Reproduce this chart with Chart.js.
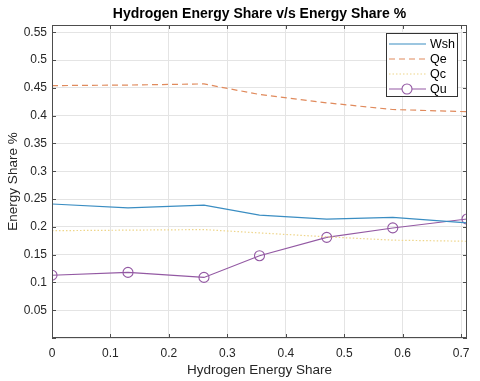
<!DOCTYPE html>
<html>
<head>
<meta charset="utf-8">
<script src="https://cdn.jsdelivr.net/npm/chart.js@4"></script>
<style>
  html, body { margin: 0; padding: 0; background: #fff; }
</style>
</head>
<body>
<canvas id="chart" width="480" height="381"></canvas>
<script>
// data
var hydrogenShare = [0, 0.13, 0.26, 0.355, 0.47, 0.583, 0.71];
var wsh = [0.241, 0.234, 0.239, 0.221, 0.214, 0.217, 0.207];
var qe  = [0.454, 0.455, 0.457, 0.438, 0.423, 0.411, 0.407];
var qc  = [0.193, 0.194, 0.195, 0.189, 0.182, 0.176, 0.174];
var qu  = [0.113, 0.118, 0.109, 0.148, 0.181, 0.198, 0.214];
var seriesNames = ['Wsh', 'Qe', 'Qc', 'Qu'];
var chartTitle = 'Hydrogen Energy Share v/s Energy Share %';

var FONT = "'Liberation Sans', Arial, Helvetica, sans-serif";

function toPoints(ys) {
    return ys.map(function (y, i) { return { x: hydrogenShare[i], y: y }; });
}

// box around the axes, inner tick marks, title over the axes and the legend (MATLAB style)
var boxPlugin = {
    id: 'box',
    afterDraw: function (chart) {
        var ctx = chart.ctx;
        var a = chart.chartArea;
        var xs = chart.scales.x, ys = chart.scales.y;
        ctx.save();
        ctx.strokeStyle = '#4d4d4d';
        ctx.lineWidth = 1;
        ctx.strokeRect(a.left + 0.5, a.top + 0.5, a.right - a.left - 1, a.bottom - a.top - 1);
        ctx.beginPath();
        xs.ticks.forEach(function (t) {
            var px = Math.round(xs.getPixelForValue(t.value)) + 0.5;
            ctx.moveTo(px, a.bottom); ctx.lineTo(px, a.bottom - 4);
            ctx.moveTo(px, a.top); ctx.lineTo(px, a.top + 4);
        });
        ys.ticks.forEach(function (t) {
            var py = Math.round(ys.getPixelForValue(t.value)) + 0.5;
            ctx.moveTo(a.left, py); ctx.lineTo(a.left + 4, py);
            ctx.moveTo(a.right, py); ctx.lineTo(a.right - 4, py);
        });
        ctx.stroke();

        // title centred over the axes
        ctx.fillStyle = '#000';
        ctx.font = 'bold 14px ' + FONT;
        ctx.textAlign = 'center';
        ctx.textBaseline = 'middle';
        ctx.fillText(chartTitle, (a.left + a.right) / 2, 14);

        // legend
        var lx = 386, ly = 33, lw = 71, lh = 63;
        ctx.textAlign = 'left';
        ctx.fillStyle = '#fff';
        ctx.fillRect(lx, ly, lw, lh);
        ctx.strokeStyle = '#333';
        ctx.strokeRect(lx + 0.5, ly + 0.5, lw, lh);
        ctx.font = '12.5px ' + FONT;
        chart.data.datasets.forEach(function (ds, i) {
            var y = ly + 11 + i * 15;
            ctx.strokeStyle = ds.borderColor;
            ctx.lineWidth = ds.borderWidth;
            ctx.setLineDash(ds.borderDash || []);
            ctx.beginPath();
            ctx.moveTo(lx + 3, y);
            ctx.lineTo(lx + 40, y);
            ctx.stroke();
            ctx.setLineDash([]);
            if (ds.pointRadius > 0) {
                ctx.fillStyle = '#fff';
                ctx.beginPath();
                ctx.arc(lx + 21, y, ds.pointRadius, 0, Math.PI * 2);
                ctx.fill();
                ctx.stroke();
            }
            ctx.fillStyle = '#000';
            ctx.fillText(ds.label, lx + 44, y + 1);
        });
        ctx.restore();
    }
};

var ctx = document.getElementById('chart');
new Chart(ctx, {
    type: 'line',
    data: {
        datasets: [{
            label: seriesNames[0],
            data: toPoints(wsh),
            borderColor: '#3a8dc2',
            borderWidth: 1.2,
            pointRadius: 0
        }, {
            label: seriesNames[1],
            data: toPoints(qe),
            borderColor: '#e08a5c',
            borderWidth: 1.2,
            borderDash: [6, 4],
            pointRadius: 0
        }, {
            label: seriesNames[2],
            data: toPoints(qc),
            borderColor: '#eed58a',
            borderWidth: 1.2,
            borderDash: [1.5, 2],
            pointRadius: 0
        }, {
            label: seriesNames[3],
            data: toPoints(qu),
            borderColor: '#9359a3',
            borderWidth: 1.1,
            pointRadius: 5,
            pointStyle: 'circle',
            pointBackgroundColor: 'rgba(0,0,0,0)',
            pointBorderColor: '#9359a3',
            pointBorderWidth: 1.1
        }]
    },
    options: {
        responsive: false,
        animation: false,
        maintainAspectRatio: false,
        layout: { padding: { left: 0, right: 13, top: 25, bottom: 0 } },
        plugins: {
            legend: { display: false },
            tooltip: { enabled: false },
            title: { display: false }
        },
        scales: {
            x: {
                type: 'linear',
                min: 0,
                max: 0.71,
                border: { display: false },
                grid: { color: '#e4e4e4', drawTicks: false },
                ticks: {
                    stepSize: 0.1,
                    includeBounds: false,
                    padding: 8,
                    color: '#262626',
                    font: { family: FONT, size: 12 },
                    maxRotation: 0,
                    callback: function (v) { return +v.toFixed(2); }
                },
                title: {
                    display: true,
                    text: 'Hydrogen Energy Share',
                    color: '#262626',
                    font: { family: FONT, size: 13.5 },
                    padding: { top: 0, bottom: 3 }
                },
                afterFit: function (s) { s.height = 43; }
            },
            y: {
                min: 0,
                max: 0.563,
                border: { display: false },
                grid: { color: '#e4e4e4', drawTicks: false },
                ticks: {
                    stepSize: 0.05,
                    includeBounds: false,
                    padding: 5,
                    color: '#262626',
                    font: { family: FONT, size: 12 },
                    callback: function (v) { return v === 0 ? '' : +v.toFixed(2); }
                },
                title: {
                    display: true,
                    text: 'Energy Share %',
                    color: '#262626',
                    font: { family: FONT, size: 13.5 },
                    padding: { top: 5, bottom: 0 }
                },
                afterFit: function (s) { s.width = 52; }
            }
        }
    },
    plugins: [boxPlugin]
});
</script>
</body>
</html>
